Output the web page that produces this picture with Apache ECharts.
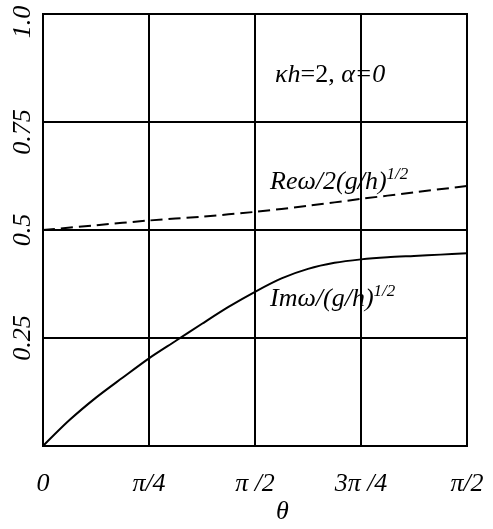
<!DOCTYPE html>
<html>
<head>
<meta charset="utf-8">
<script src="https://cdn.jsdelivr.net/npm/echarts@6/dist/echarts.min.js"></script>
<style>
  html, body { margin: 0; padding: 0; background: #fff; }
  #canva { width: 493px; height: 529px; }
</style>
</head>
<body>
<div id="canva"></div>
<script>
// theta positions (in quarter steps of the axis) and curve values
const thetaIm = [0, 0.25, 0.5, 0.75, 1, 1.25, 1.5, 1.75, 2, 2.25, 2.5, 2.75, 3, 3.25, 3.5, 3.75, 4];
const imValues = [0, 0.06, 0.112, 0.158, 0.203, 0.243, 0.283, 0.322, 0.357, 0.388, 0.41, 0.424, 0.432, 0.437, 0.44, 0.443, 0.446];
const thetaRe = [0, 0.5, 1, 1.5, 2, 2.5, 3, 3.5, 4];
const reValues = [0.5, 0.511, 0.522, 0.531, 0.542, 0.556, 0.572, 0.587, 0.602];

const xTickLabels = ['0', 'π/4', 'π /2', '3π /4', 'π/2'];
const yTickValues = [0, 0.25, 0.5, 0.75, 1];
const yTickLabels = ['', '{t|0.25}', '{t|0.5}', '{t|0.75}{p|}', '{t|1.0}{q|}'];

const serif = '"Liberation Serif", "DejaVu Serif", serif';
const fs = 26;

var myChart = echarts.init(document.getElementById('canva'));

const option = {
    animation: false,
    grid: {
        left: 43, right: 26, top: 14, bottom: 83,
        outerBoundsMode: 'none',
        show: true, borderColor: '#000', borderWidth: 2
    },
    xAxis: {
        type: 'value',
        min: 0, max: 4, interval: 1,
        axisLine: { lineStyle: { color: '#000', width: 2 } },
        axisTick: { show: false },
        splitLine: { show: true, lineStyle: { color: '#000', width: 2 } },
        axisLabel: {
            margin: 25,
            fontFamily: serif, fontStyle: 'italic', fontSize: fs, color: '#000',
            formatter: v => xTickLabels[Math.round(v)]
        }
    },
    yAxis: {
        type: 'value',
        min: 0, max: 1, interval: 0.25,
        axisLine: { lineStyle: { color: '#000', width: 2 } },
        axisTick: { show: false },
        splitLine: { show: true, lineStyle: { color: '#000', width: 2 } },
        axisLabel: {
            rotate: 90, margin: 7,
            color: '#000',
            formatter: v => yTickLabels[yTickValues.indexOf(v)],
            rich: {
                t: { fontFamily: serif, fontStyle: 'italic', fontSize: fs, color: '#000' },
                p: { width: 20 },
                q: { width: 16 }
            }
        }
    },
    graphic: [
        {
            type: 'text', left: 275, top: 62,
            style: {
                text: '{i|κh}{n|=2, }{i|α=0}',
                rich: {
                    i: { fontFamily: serif, fontStyle: 'italic', fontSize: fs, fill: '#000' },
                    n: { fontFamily: serif, fontSize: fs, fill: '#000' }
                }
            }
        },
        {
            type: 'text', left: 270, top: 166,
            style: {
                text: '{i|Reω/2(g/h)}{s|1/2}',
                rich: {
                    i: { fontFamily: serif, fontStyle: 'italic', fontSize: fs, fill: '#000', verticalAlign: 'bottom' },
                    s: { fontFamily: serif, fontStyle: 'italic', fontSize: 17, fill: '#000', verticalAlign: 'top', padding: [0, 0, 12, 0] }
                }
            }
        },
        {
            type: 'text', left: 270, top: 283,
            style: {
                text: '{i|Imω/(g/h)}{s|1/2}',
                rich: {
                    i: { fontFamily: serif, fontStyle: 'italic', fontSize: fs, fill: '#000', verticalAlign: 'bottom' },
                    s: { fontFamily: serif, fontStyle: 'italic', fontSize: 17, fill: '#000', verticalAlign: 'top', padding: [0, 0, 12, 0] }
                }
            }
        },
        {
            type: 'text', left: 276, top: 499,
            style: { text: 'θ', fontFamily: serif, fontStyle: 'italic', fontSize: fs, fill: '#000' }
        }
    ],
    series: [
        {
            name: 'Re',
            type: 'line',
            smooth: 0.3,
            showSymbol: false,
            lineStyle: { color: '#000', width: 2, type: [12, 6] },
            data: thetaRe.map((t, i) => [t, reValues[i]])
        },
        {
            name: 'Im',
            type: 'line',
            smooth: 0.3,
            showSymbol: false,
            lineStyle: { color: '#000', width: 2 },
            data: thetaIm.map((t, i) => [t, imValues[i]])
        }
    ]
};
myChart.setOption(option);
</script>
</body>
</html>
